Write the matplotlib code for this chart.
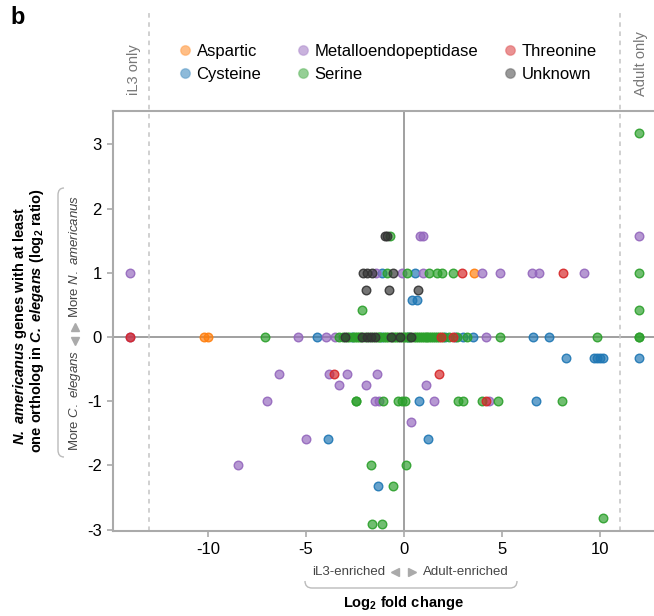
import numpy as np
import matplotlib
matplotlib.use('Agg')
import matplotlib.pyplot as plt
from matplotlib.lines import Line2D
from matplotlib.path import Path
from matplotlib.patches import PathPatch

plt.rcParams['font.family'] = ['Liberation Sans', 'DejaVu Sans']
plt.rcParams['axes.unicode_minus'] = False
plt.rcParams['mathtext.fontset'] = 'custom'
plt.rcParams['mathtext.rm'] = 'Liberation Sans'
plt.rcParams['mathtext.it'] = 'Liberation Sans:italic'
plt.rcParams['mathtext.bf'] = 'Liberation Sans:bold'
plt.rcParams['mathtext.bfit'] = 'Liberation Sans:italic:bold'

# protease classes: (log2 fold change, log2 ratio N. americanus / C. elegans)
aspartic_x = [-10.2, -10.0, 3.58]
aspartic_y = [0, 0, 1]

cysteine_x = [-4.46, -2.67, -1.1, 0.2, 2.1, 2.6, 3.0, 3.5, 6.56, 7.41,
              -1.14, 0.56, 0.39, 0.68,
              8.27, 9.7, 9.85, 10.0, 10.15, 12.0,
              0.78, 6.72, -3.86, 1.24, -1.33]
cysteine_y = [0, 0, 0, 0, 0, 0, 0, 0, 0, 0,
              1, 1, 0.58, 0.58,
              -0.32, -0.32, -0.32, -0.32, -0.32, -0.32,
              -1, -1, -1.58, -1.58, -2.32]

metallo_x = [-14.0, -14.0, -5.42, -4.0, -3.52, 4.2,
             -1.43, -0.12, 0.98, 4.0, 4.9, 6.51, 6.89, 9.2,
             0.8, 0.95, 12.0,
             -6.38, -3.81, -2.89, -1.39,
             -3.32, -1.96, 1.1,
             -7.0, -1.48, -1.26, 1.55, 4.34,
             0.36, -5.0, -8.49]
metallo_y = [1, 0, 0, 0, 0, 0,
             1, 1, 1, 1, 1, 1, 1, 1,
             1.58, 1.58, 1.58,
             -0.58, -0.58, -0.58, -0.58,
             -0.74, -0.74, -0.74,
             -1, -1, -1, -1, -1,
             -1.32, -1.58, -2]

threonine_x = [-14.0, 1.9, 2.5, 2.94, 8.13, -3.57, 1.8, 4.2]
threonine_y = [0, 0, 0, 1, 1, -0.58, -0.58, -1]

serine_x = [12.0, 12.0, 12.0, 12.0, 12.0, -7.09, 4.9, 9.83, -0.71,
            -0.88, 0.14, 1.29, 1.67, 1.92, 2.52, -2.16,
            -2.45, -2.45, -1.05, -0.32, -0.12, 0.05, 2.74, 2.99, 3.96, 4.81, 8.04,
            -1.68, 0.09, -0.56, 10.14, -1.65, -1.11,
            -3.3, -3.1, -2.9, -2.8, -2.6, -2.5, -2.4, -2.3, -2.2, -2.0, -1.8,
            -1.6, -1.4, -1.3, -1.2, -1.0, -0.9, -0.8, -0.6, -0.5, -0.4, -0.3,
            -0.1, 0.0, 0.1, 0.2, 0.3, 0.5, 0.6, 0.7, 0.8, 0.9, 1.0, 1.1, 1.2,
            1.3, 1.4, 1.5, 1.6, 1.7, 1.8, 2.0, 2.3, 2.7, 3.2]
serine_y = [3.17, 1, 0.42, 0, 0, 0, 0, 0, 1.58,
            1, 1, 1, 1, 1, 1, 0.42,
            -1, -1, -1, -1, -1, -1, -1, -1, -1, -1, -1,
            -2, -2, -2.32, -2.81, -2.91, -2.91,
            0, 0, 0, 0, 0, 0, 0, 0, 0, 0, 0,
            0, 0, 0, 0, 0, 0, 0, 0, 0, 0, 0,
            0, 0, 0, 0, 0, 0, 0, 0, 0, 0, 0, 0, 0,
            0, 0, 0, 0, 0, 0, 0, 0, 0, 0]

unknown_x = [-3.01, -2.16, -1.9, -1.7, -1.5, -0.68, -0.2, 0.37,
             -0.97, -0.85, -2.07, -1.87, -1.65, -0.54,
             -1.95, -0.75, 0.7]
unknown_y = [0, 0, 0, 0, 0, 0, 0, 0,
             1.58, 1.58, 1, 1, 1, 1,
             0.74, 0.74, 0.74]

classes = [
    ('Aspartic', aspartic_x, aspartic_y, '#ff7f0e'),
    ('Cysteine', cysteine_x, cysteine_y, '#1f77b4'),
    ('Metalloendopeptidase', metallo_x, metallo_y, '#9467bd'),
    ('Serine', serine_x, serine_y, '#2ca02c'),
    ('Threonine', threonine_x, threonine_y, '#d62728'),
    ('Unknown', unknown_x, unknown_y, '#333333'),
]

W, H = 654, 616


def fx(px):
    return px / W


def fy(py):
    return 1 - py / H


fig = plt.figure(figsize=(W / 100, H / 100), dpi=100)
ax = fig.add_axes([fx(113), fy(531), fx(654) - fx(113), fy(111) - fy(531)])
ax.set_xlim(-14.85, 12.76)
ax.set_ylim(-3.02, 3.52)

grey = '#aaaaaa'
ax.axhline(0, color='#999999', lw=1.3, zorder=1)
ax.axvline(0, color='#999999', lw=1.3, zorder=1)
for xv in (-13, 11):
    ax.plot([xv, xv], [-3.02, 5.1], color='#c4c4c4', lw=1.1, ls=(0, (3, 3)),
            clip_on=False, zorder=1)

handles = {}
for name, xs, ys, c in classes:
    ax.scatter(xs, ys, s=38, facecolor=matplotlib.colors.to_rgba(c, 0.68),
               edgecolor=matplotlib.colors.to_rgba(c, 0.9), lw=1.0, zorder=3)
    handles[name] = Line2D([], [], ls='none', marker='o', ms=7,
                           mfc=matplotlib.colors.to_rgba(c, 0.5),
                           mec=matplotlib.colors.to_rgba(c, 0.3))

for s in ('left', 'bottom', 'top'):
    ax.spines[s].set_color(grey)
    ax.spines[s].set_linewidth(1.5)
ax.spines['right'].set_visible(False)
ax.set_xticks([-10, -5, 0, 5, 10])
ax.set_yticks([-3, -2, -1, 0, 1, 2, 3])
ax.tick_params(direction='out', length=4, color=grey, width=1.2,
               labelsize=12, pad=4)

# legend, one block per column
cols = [(179, ['Aspartic', 'Cysteine']),
        (297, ['Metalloendopeptidase', 'Serine']),
        (504, ['Threonine', 'Unknown'])]
for x0, names in cols:
    fig.legend([handles[n] for n in names], names, loc='center left',
               bbox_to_anchor=(fx(x0), fy(63)), frameon=False, fontsize=12,
               borderpad=0, borderaxespad=0, handlelength=0.7,
               handletextpad=0.35, labelspacing=0.5)

fig.text(fx(10), fy(18), 'b', fontsize=17, fontweight='bold', va='center')
fig.text(fx(134), fy(70), 'iL3 only', rotation=90, fontsize=10.5,
         color='#777777', ha='center', va='center')
fig.text(fx(641), fy(64), 'Adult only', rotation=90, fontsize=10.5,
         color='#777777', ha='center', va='center')

# y label
fig.text(fx(20), fy(326), r'$\mathbfit{N.\ americanus}$ genes with at least',
         rotation=90, fontsize=10.5, fontweight='bold', ha='center', va='center')
fig.text(fx(37), fy(320), r'one ortholog in $\mathbfit{C.\ elegans}$ (log$_\mathbf{2}$ ratio)',
         rotation=90, fontsize=10.5, fontweight='bold', ha='center', va='center')
fig.text(fx(75), fy(350), r'More $\mathit{C.\ elegans}$', rotation=90,
         fontsize=9.5, color='#444444', ha='center', va='top')
fig.text(fx(75), fy(318), r'More $\mathit{N.\ americanus}$', rotation=90,
         fontsize=9.5, color='#444444', ha='center', va='bottom')
fig.add_artist(Line2D([fx(75)], [fy(327)], marker='^', ms=5.5, color='#aaaaaa',
                      transform=fig.transFigure))
fig.add_artist(Line2D([fx(75)], [fy(341)], marker='v', ms=5.5, color='#aaaaaa',
                      transform=fig.transFigure))

# x label
fig.text(fx(385), fy(572), 'iL3-enriched', fontsize=9.5, color='#444444',
         ha='right', va='center')
fig.text(fx(423), fy(572), 'Adult-enriched', fontsize=9.5, color='#444444',
         ha='left', va='center')
fig.add_artist(Line2D([fx(395)], [fy(572)], marker='<', ms=5.5, color='#aaaaaa',
                      transform=fig.transFigure))
fig.add_artist(Line2D([fx(412)], [fy(572)], marker='>', ms=5.5, color='#aaaaaa',
                      transform=fig.transFigure))
fig.text(fx(403), fy(603), r'Log$_\mathbf{2}$ fold change', fontsize=10.5,
         fontweight='bold', ha='center', va='center')

# brackets
def bracket(pts):
    verts = [(fx(a), fy(b)) for a, b in pts]
    codes = [Path.MOVETO, Path.CURVE3, Path.CURVE3, Path.LINETO,
             Path.CURVE3, Path.CURVE3]
    fig.add_artist(PathPatch(Path(verts, codes), fill=False, ec='#bbbbbb',
                             lw=1.0, transform=fig.transFigure))


bracket([(64, 188), (58, 188), (58, 195), (58, 450), (58, 457), (64, 457)])
bracket([(305, 581), (305, 588), (312, 588), (510, 588), (517, 588), (517, 581)])

fig.savefig('out.png', dpi=100)
